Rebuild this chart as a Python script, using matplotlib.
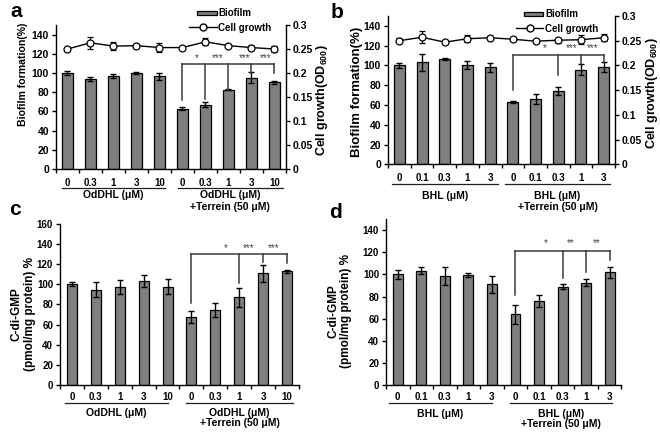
import matplotlib
matplotlib.use('Agg')
import matplotlib.pyplot as plt
import matplotlib.patches as mpatches
from matplotlib import transforms
from matplotlib.lines import Line2D
from matplotlib.legend_handler import HandlerPatch
import numpy as np

plt.rcParams['font.family'] = ['Liberation Sans', 'DejaVu Sans']
plt.rcParams['font.weight'] = 'bold'
plt.rcParams['axes.labelweight'] = 'bold'
plt.rcParams['mathtext.fontset'] = 'custom'
plt.rcParams['mathtext.rm'] = 'Liberation Sans:bold'
plt.rcParams['mathtext.bf'] = 'Liberation Sans:bold'
plt.rcParams['axes.linewidth'] = 1.0

# ---- data ----
conc_oddhl = ['0', '0.3', '1', '3', '10', '0', '0.3', '1', '3', '10']
conc_bhl = ['0', '0.1', '0.3', '1', '3', '0', '0.1', '0.3', '1', '3']

# a: OdDHL, biofilm (%) + cell growth (OD600)
biofilm_a = [100, 94, 97, 100, 96.5, 63, 67, 82.5, 95, 90.5]
biofilm_a_err = [2.5, 2, 2, 1, 4, 2, 2.5, 0.7, 5.8, 1.5]
growth_a = [0.250, 0.263, 0.256, 0.257, 0.253, 0.253, 0.265, 0.257, 0.253, 0.250]
growth_a_err = [0.005, 0.012, 0.008, 0.004, 0.010, 0.003, 0.007, 0.003, 0.005, 0.007]

# b: BHL
biofilm_b = [100, 103, 106, 100, 98, 63, 66, 74.5, 95.5, 98]
biofilm_b_err = [2.5, 8.5, 1, 4, 4.5, 1.5, 5, 4, 5.5, 5]
growth_b = [0.250, 0.257, 0.247, 0.254, 0.256, 0.253, 0.249, 0.251, 0.252, 0.256]
growth_b_err = [0.005, 0.012, 0.004, 0.007, 0.003, 0.004, 0.003, 0.005, 0.009, 0.007]

# c, d: c-di-GMP (%)
cdg_c = [100, 94.5, 97, 103.5, 97.5, 67.5, 74.5, 87, 111, 113]
cdg_c_err = [2, 7.5, 7, 6, 7.5, 6, 6.5, 9, 8.5, 1.5]
cdg_d = [100, 103.5, 98.5, 99.5, 91, 64, 76, 89, 92.5, 102]
cdg_d_err = [4, 3.5, 8, 1.5, 8, 8.5, 5, 2, 3, 5]

# significance brackets: bar y, vertical positions, where each vertical ends, stars
sig_a_y, sig_a_x, sig_a_end = 109, [5, 6, 7, 8, 9], [72, 73, 82.5, 100.5, 100]
star_a_x, star_a_y, star_a = [5.6, 6.55, 7.7, 8.6], 116, ['*', '***', '***', '***']
sig_b_y, sig_b_x, sig_b_end = 111, [5, 7, 8, 9], [75, 90, 101, 103]
star_b_x, star_b_y, star_b = [6.4, 7.6, 8.5], 118, ['*', '***', '***']
sig_c_y, sig_c_x, sig_c_end = 130.5, [5, 7, 8, 9], [81.5, 101.5, 122.5, 121]
star_c_x, star_c_y, star_c = [6.45, 7.4, 8.45], 136, ['*', '***', '***']
sig_d_y, sig_d_x, sig_d_end = 121.5, [5, 7, 8, 9], [81.5, 96.5, 102.5, 113]
star_d_x, star_d_y, star_d = [6.3, 7.35, 8.45], 128.5, ['*', '**', '**']

BAR = '#7f7f7f'
LINE = '#3a3a3a'

fig = plt.figure(figsize=(6.6, 4.32), dpi=100)


def draw_bars(ax, vals, errs, width):
    x = np.arange(len(vals))
    ax.bar(x, vals, width, yerr=errs, color=BAR, edgecolor='black', linewidth=0.9,
           capsize=2.5, error_kw=dict(elinewidth=1, capthick=1, ecolor='black'), zorder=2)


def style_axes(ax, labels, ymax, ytop, tick_pad, fs_x, fs_y):
    ax.set_xlim(-0.5, 9.5)
    ax.set_ylim(0, ymax)
    ax.set_yticks(np.arange(0, ytop + 1, 20))
    ax.set_xticks(range(10))
    ax.set_xticklabels(labels, fontsize=fs_x)
    ax.set_xticks(np.arange(-0.5, 10, 1), minor=True)
    ax.tick_params(axis='x', which='major', length=0, pad=tick_pad)
    ax.tick_params(axis='x', which='minor', length=3, width=1, direction='out')
    ax.tick_params(axis='y', length=3, width=1, direction='out', pad=2, labelsize=fs_y)
    ax.spines['top'].set_visible(False)
    ax.spines['right'].set_visible(False)


def groups(ax, spans, texts, offs, fs=7.5):
    base = ax.get_xaxis_transform()
    tr_line = transforms.offset_copy(base, fig=fig, y=-offs[0], units='points')
    for (x0, x1), txt in zip(spans, texts):
        ax.plot([x0, x1], [0, 0], color='#222222', lw=0.9, transform=tr_line, clip_on=False)
        lines = txt.split('\n')
        for k, ln in enumerate(lines):
            tr = transforms.offset_copy(base, fig=fig, y=-offs[1 + k], units='points')
            ax.text((x0 + x1) / 2, 0, ln, transform=tr, ha='center', va='center', fontsize=fs)


def bracket(ax, ybar, xs, ends, sx, sy, stars):
    for x, e in zip(xs, ends):
        ax.plot([x, x], [e, ybar], color=LINE, lw=1.1, zorder=3)
    ax.plot([xs[0], xs[-1]], [ybar, ybar], color=LINE, lw=1.1, zorder=3)
    for x, s in zip(sx, stars):
        ax.text(x, sy, s, ha='center', va='center', fontsize=7, fontweight='normal', color='#444444')


def narrow_box(legend, orig_handle, xdescent, ydescent, width, height, fontsize):
    return mpatches.Rectangle((-xdescent + width * 0.28, -ydescent + height * 0.15),
                              width * 0.72, height * 0.7)


def growth_panel(pos, conc, bio, bio_err, gr, gr_err, spans, group_txt, offs, tick_pad,
                 ylab_fs, ylab_xy, rlab_xy, leg_xy, sig):
    ax = fig.add_axes(pos)
    draw_bars(ax, bio, bio_err, 0.48)
    style_axes(ax, conc, 150, 140, tick_pad, 7, 7.5)
    ax.set_ylabel('Biofilm formation(%)', fontsize=ylab_fs, va='center')
    ax.yaxis.set_label_coords(*ylab_xy)
    bracket(ax, *sig)

    ax2 = ax.twinx()
    ax2.errorbar(np.arange(len(gr)), gr, yerr=gr_err, fmt='-o', color='black', lw=1,
                 mfc='white', mec='black', ms=5, mew=0.9, capsize=2.5, elinewidth=0.9,
                 capthick=0.9, zorder=4)
    ax2.set_ylim(0, 0.3)
    ax2.set_yticks(np.arange(0, 0.31, 0.05))
    ax2.set_yticklabels(['%g' % round(v, 2) for v in np.arange(0, 0.31, 0.05)])
    ax2.tick_params(axis='y', length=3, width=1, direction='out', pad=2, labelsize=7.5)
    for s in ['top', 'left', 'bottom']:
        ax2.spines[s].set_visible(False)
    ax2.set_ylabel(r'Cell growth(OD$_{\mathbf{600}}$)', fontsize=9, va='center')
    ax2.yaxis.set_label_coords(*rlab_xy)

    h_bar = mpatches.Patch(facecolor=BAR, edgecolor='black', linewidth=0.9)
    h_line = Line2D([], [], color='black', lw=1, marker='o', mfc='white', mec='black', ms=5)
    ax2.legend([h_bar, h_line], ['Biofilm', 'Cell growth'], loc='upper left',
               bbox_to_anchor=leg_xy, frameon=False, fontsize=7, borderpad=0,
               borderaxespad=0, handlelength=2.8, handletextpad=0.15, labelspacing=0.45,
               handler_map={mpatches.Patch: HandlerPatch(patch_func=narrow_box)})
    groups(ax, spans, group_txt, offs)
    return ax


def cdg_panel(pos, conc, vals, errs, ymax, ytop, spans, group_txt, offs, tick_pad, ylab_xy, sig):
    ax = fig.add_axes(pos)
    draw_bars(ax, vals, errs, 0.42)
    style_axes(ax, conc, ymax, ytop, tick_pad, 7, 7)
    ax.set_ylabel('C-di-GMP\n(pmol/mg protein) %', fontsize=8.5, va='center',
                  linespacing=1.1)
    ax.yaxis.set_label_coords(*ylab_xy)
    bracket(ax, *sig)
    groups(ax, spans, group_txt, offs)
    return ax


growth_panel([0.0848, 0.6088, 0.3485, 0.3333], conc_oddhl, biofilm_a, biofilm_a_err,
             growth_a, growth_a_err,
             [(-0.25, 4.24), (4.79, 9.38)],
             ['OdDHL (\u03bcM)', 'OdDHL (\u03bcM)\n+Terrein (50 \u03bcM)'],
             (13.5, 18.7, 27.4), 6.4, 7.6, (-0.145, 0.655), (1.157, 0.48), (0.58, 1.115),
             (sig_a_y, sig_a_x, sig_a_end, star_a_x, star_a_y, star_a))

growth_panel([0.5879, 0.6197, 0.3439, 0.3433], conc_bhl, biofilm_b, biofilm_b_err,
             growth_b, growth_b_err,
             [(-0.34, 4.36), (4.65, 9.28)],
             ['BHL (\u03bcM)', 'BHL (\u03bcM)\n+Terrein (50 \u03bcM)'],
             (14.4, 22.8, 30.5), 6.3, 9.5, (-0.137, 0.49), (1.162, 0.48), (0.565, 1.045),
             (sig_b_y, sig_b_x, sig_b_end, star_b_x, star_b_y, star_b))

cdg_panel([0.0909, 0.1088, 0.3621, 0.3727], conc_oddhl, cdg_c, cdg_c_err, 160, 160,
          [(-0.29, 4.03), (4.76, 9.26)],
          ['OdDHL (\u03bcM)', 'OdDHL (\u03bcM)\n+Terrein (50 \u03bcM)'],
          (13.2, 20.2, 27.4), 5.1, (-0.153, 0.44),
          (sig_c_y, sig_c_x, sig_c_end, star_c_x, star_c_y, star_c))

cdg_panel([0.5848, 0.1088, 0.3568, 0.3838], conc_bhl, cdg_d, cdg_d_err, 150, 140,
          [(-0.36, 3.99), (4.77, 9.11)],
          ['BHL (\u03bcM)', 'BHL (\u03bcM)\n+Terrein (50 \u03bcM)'],
          (12.7, 20.9, 28.1), 5.2, (-0.195, 0.446),
          (sig_d_y, sig_d_x, sig_d_end, star_d_x, star_d_y, star_d))

for lab, x, y in [('a', 0.024, 0.974), ('b', 0.511, 0.972), ('c', 0.023, 0.514), ('d', 0.509, 0.507)]:
    fig.text(x, y, lab, fontsize=15, fontweight='bold', ha='center', va='center')

fig.savefig('out.png', dpi=100)
